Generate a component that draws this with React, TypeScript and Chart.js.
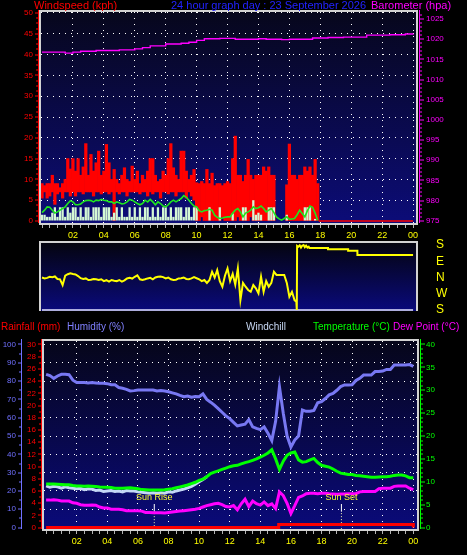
import React, { useEffect, useRef } from 'react';
import { Chart, registerables } from 'chart.js';

Chart.register(...registerables);

const FONT = "'Liberation Sans', Arial, Helvetica, sans-serif";

// ---------------- Top panel: wind (10-minute samples from 00:00) ----------------
const gustHigh: (number | null)[] = [
  9, 8.5, 9, 9, 11, 9,
  9, 8, 9, 10, 15, 12.5,
  15, 12, 15, 11, 13, 18.6,
  11, 16, 12, 14, 16.8, 11,
  12, 18.4, 14, 10, 12.4, 10,
  9, 11, 12.8, 10, 9.5, 13.2,
  10, 12, 9, 11, 10, 12,
  15, 15, 11, 9.5, 10, 12,
  11, 15, 18.6, 12.8, 11, 10,
  16.8, 16.8, 12, 10, 11, 12.4,
  9.2, 9, 9.5, 9, 12.4, 9,
  11.5, 8.5, 9, 9, 8.5, 9,
  9.5, 9, 15, 20.4, 11, 11,
  9.5, 11, 14.8, 11, 10, 11,
  11, 11, 13, 12, 13, 11,
  11, null, null, null, null, 8.7,
  18.5, 11, 11, 10, 11, 11,
  13, 12, 13, 11, 14.8, 9,
];
const gustLow: (number | null)[] = [
  5.5, 7, 5.5, 6, 7, 4,
  6.5, 7, 5.5, 7, 7, 6,
  7, 6, 7, 7, 6.5, 7,
  7, 7, 6, 7, 7, 6.5,
  7, 7, 6.5, 7, 0, 7,
  6.5, 7, 7, 6, 7, 7,
  7, 7, 6.5, 7, 7, 6,
  7, 6.5, 7, 7, 5.5, 7,
  7, 6.5, 7, 7, 6, 7,
  7, 7, 5.5, 7, 6, 5,
  0, 0, 1, 0, 0, 0,
  0, 0, 0, 0, 1, 0,
  0, 0, 0, 0, 1, 0,
  0, 0, 0, 1, 0, 0,
  0, 0, 0, 0, 0, 0,
  0, null, null, null, null, 0,
  0, 0, 0, 0, 0, 0,
  0, 0, 0, 0, 0, 0,
];
const windSpeed: number[] = [
  1.5, 1.5, 1, 1, 2, 3.3,
  1, 3.3, 3.3, 1, 3.3, 2,
  3.3, 3.3, 1, 3.3, 1, 3.3,
  3.3, 1, 3.3, 3.3, 3.3, 1,
  3.3, 3.3, 3.3, 1, 2, 3.3,
  1, 3.3, 1, 1, 3.3, 1,
  3.3, 1, 3.3, 1, 3.3, 3.3,
  1, 3.3, 1, 3.3, 1, 3.3,
  3.3, 1, 3.3, 1, 3.3, 3.3,
  3.3, 1, 3.3, 3.3, 1, 3.3,
  3.3, 0, 0, 0, 0, 3.3,
  0, 0, 0, 3.3, 0, 0,
  0, 0, 1.8, 0, 0, 0,
  3.3, 3.3, 0, 0, 5, 1.5,
  2, 1.5, 0, 0, 3.3, 3.3,
  3.3, 0, 0, 0, 0, 1.5,
  0, 0, 0, 0, 0, 0,
  3.3, 3.3, 3.3, 0, 0.5, 0,
];
const windAvg: number[] = [
  2.0, 2.6, 3.4, 3.3, 2.6, 1.9,
  2.2, 2.6, 3.0, 3.4, 4.2, 4.9,
  4.6, 3.9, 3.9, 4.1, 4.6, 4.9,
  5.0, 4.9, 4.6, 5.0, 4.9, 5.2,
  5.0, 4.9, 4.6, 4.6, 4.2, 4.6,
  4.4, 4.1, 4.2, 4.6, 5.2, 5.0,
  4.6, 4.2, 3.9, 4.2, 5.0, 4.6,
  5.2, 4.6, 3.9, 4.6, 4.2, 3.6,
  3.4, 3.9, 4.6, 5.0, 4.6, 5.0,
  5.4, 6.1, 5.7, 5.0, 4.2, 3.6,
  3.4, 2.5, 2.2, 2.5, 2.6, 2.8,
  2.6, 1.4, 0.9, 0.6, 0.7, 0.9,
  1.0, 1.0, 1.9, 2.6, 3.0, 2.2,
  1.0, 1.9, 2.2, 2.6, 3.4, 3.0,
  3.2, 3.6, 3.0, 2.2, 2.6, 3.0,
  2.0, 1.0, 0.5, 0.2, 0.6, 1.0,
  0.4, 0.5, 0.6, 1.5, 2.6, 1.8,
  1.0, 2.5, 3.6, 3.3, 1.9, 0.1,
];
const gustTailHours = [17.9, 24];
const gustTail = [0, 0];

// Barometer, every 30 minutes
const baroHpa: number[] = [
  1016.8, 1016.8, 1016.8, 1016.55, 1016.8, 1017.0, 1017.0, 1017.2, 1017.2, 1017.2,
  1017.35, 1017.35, 1017.6, 1017.9, 1018.35, 1018.35, 1018.8, 1018.8, 1019.0, 1019.25,
  1019.7, 1020.1, 1020.1, 1020.2, 1020.2, 1020.0, 1020.0, 1020.0, 1020.1, 1020.0,
  1020.0, 1019.9, 1020.0, 1020.0, 1020.0, 1020.3, 1020.3, 1020.4, 1020.4, 1020.5,
  1020.5, 1020.5, 1021.0, 1021.0, 1021.0, 1021.1, 1021.1, 1021.3, 1021.4,
];

// ---------------- Wind direction (axis order S=0, W=90, N=180, E=270, S=360) ----------------
const dirPlot: number[] = [
  180, 175, 178, 184, 182, 186,
  172, 170, 138, 190, 198, 203,
  199, 197, 188, 176, 172, 175,
  166, 168, 172, 170, 166, 170,
  160, 165, 157, 166, 162, 160,
  166, 157, 164, 175, 178, 174,
  184, 192, 170, 166, 170, 175,
  178, 170, 180, 184, 186, 182,
  175, 180, 170, 166, 168, 175,
  176, 180, 172, 170, 175, 182,
  176, 170, 160, 166, 150, 166,
  212, 180, 221, 160, 129, 190,
  230, 160, 200, 140, 230, 55,
  150, 129, 111, 101, 138, 120,
  92, 184, 101, 160, 129, 150,
  212, 194, 194, 194, 194, 150,
  74, 101, 55,
];
const dirLateHours = [16.45, 16.48, 16.5, 16.58, 16.67, 16.75, 16.83, 16.92, 17.0, 17.08, 17.17, 17.25, 17.3, 18.5, 18.5, 19.8, 19.8, 20.4, 20.4, 24];
const dirLate = [46, 0, 355, 350, 358, 346, 356, 360, 348, 356, 345, 350, 343, 343, 336, 336, 328, 328, 305, 305];
const dirBaseHours = [0, 24];
const dirBase = [0, 0];
const dirLabels: Record<number, string> = { 0: 'S', 90: 'W', 180: 'N', 270: 'E', 360: 'S' };

// ---------------- Bottom panel (15-minute samples) ----------------
const humidity: number[] = [
  83.7, 83.0, 81.5, 82.8, 83.7, 83.7, 83.5, 80.5,
  79.2, 79.2, 79.2, 79.0, 79.2, 79.0, 78.8, 78.8,
  78.6, 78.0, 78.0, 76.5, 76.1, 75.5, 74.6, 74.8,
  75.1, 75.1, 75.1, 75.1, 75.1, 74.6, 74.8, 74.6,
  74.2, 73.6, 73.0, 72.2, 71.5, 71.8, 71.2, 71.6,
  71.5, 73.0, 70.0, 68.5, 66.9, 65.0, 63.0, 61.0,
  59.5, 57.5, 55.5, 56.0, 56.5, 59.0, 55.0, 54.2,
  53.5, 55.0, 51.5, 47.5, 58.0, 77.0, 62.4, 50.0,
  44.0, 47.8, 50.0, 64.2, 63.5, 63.5, 64.0, 68.2,
  68.8, 70.5, 72.5, 73.3, 75.0, 77.0, 77.9, 77.9,
  78.0, 80.3, 81.5, 83.3, 83.3, 83.3, 85.2, 85.2,
  85.5, 86.4, 86.4, 88.8, 88.8, 88.8, 88.8, 89.0, 88.0,
];
const temperature: number[] = [
  9.5, 9.5, 9.5, 9.45, 9.4, 9.35, 9.35, 9.2,
  9.1, 9.1, 9.05, 9.1, 9.05, 9.0, 8.85, 8.8,
  8.8, 8.75, 8.6, 8.6, 8.6, 8.65, 8.7, 8.6,
  8.5, 8.3, 8.25, 8.2, 8.2, 8.2, 8.2, 8.25,
  8.4, 8.5, 8.7, 8.9, 9.1, 9.3, 9.6, 9.9,
  10.3, 10.6, 11.1, 11.8, 12.1, 12.4, 12.7, 13.0,
  13.3, 13.5, 13.6, 13.9, 14.2, 14.4, 14.7, 15.0,
  15.4, 15.8, 16.3, 17.0, 15.0, 12.7, 14.5, 15.8,
  16.3, 16.5, 14.8, 14.3, 14.4, 14.8, 15.1, 14.2,
  13.6, 13.4, 13.2, 12.8, 12.3, 11.9, 11.75, 11.6,
  11.6, 11.4, 11.3, 11.2, 11.1, 11.0, 11.0, 11.05,
  11.1, 11.1, 11.2, 11.4, 11.5, 11.5, 11.3, 10.9, 10.9,
];
const dewPoint: number[] = [
  6.0, 6.0, 6.1, 6.0, 5.8, 5.8, 5.8, 5.4,
  5.3, 5.0, 4.9, 4.9, 4.95, 4.9, 4.5, 4.3,
  4.3, 4.0, 4.0, 4.0, 3.9, 3.7, 3.7, 3.7,
  3.7, 3.6, 3.3, 3.3, 3.25, 3.25, 3.25, 3.2,
  3.3, 3.4, 3.5, 3.6, 3.7, 3.8, 3.9, 4.0,
  4.2, 4.5, 4.8, 5.0, 5.2, 5.3, 5.0, 4.6,
  4.5, 4.8, 3.9, 5.2, 6.2, 4.6, 5.8, 5.2,
  4.9, 5.6, 4.8, 5.2, 4.2, 7.8, 7.0, 5.3,
  3.1, 4.8, 6.6, 6.9, 7.4, 7.5, 7.5, 7.4,
  7.5, 7.5, 7.4, 7.35, 7.3, 7.35, 7.35, 7.4,
  7.4, 7.4, 7.8, 7.9, 7.9, 7.9, 7.9, 8.5,
  8.6, 8.6, 8.6, 9.0, 9.1, 9.1, 9.1, 8.6, 8.3,
];
// windchill is visible only until it merges with temperature (~10:30)
const windChill: number[] = [
  9.1, 8.8, 9.0, 8.9, 8.6, 8.9, 8.7, 8.6,
  8.5, 8.6, 8.3, 8.5, 8.4, 8.1, 8.2, 7.9,
  8.0, 8.1, 7.9, 8.0, 7.8, 8.1, 8.0, 8.0,
  7.8, 7.7, 7.6, 7.5, 7.6, 7.5, 7.6, 7.5,
  7.8, 7.7, 8.0, 8.2, 8.4, 8.7, 9.0, 9.5,
  10.0, 10.5, 11.1,
];
const rainHours = [0, 15.2, 23.9, 24];
const rainMm = [0, 0.5, 0.5, 0];
const sunHours = [7.07, 19.3];
const sunLabels = ['Sun Rise', 'Sun Set'];

// ---------------- helpers ----------------
const SUN_DOT_TOP = 3.47;
const SUN_LINE_TOP = 5.15;
const CLEAR = 'rgba(0,0,0,0)';

const pts = (xs: number[], ys: (number | null)[]) => ys.map((y, i) => ({ x: xs[i], y }));
const every = (n: number, step: number) => Array.from({ length: n }, (_, i) => i * step);

const isEvenHour = (v: any) => typeof v === 'number' && v > 0.01 && Math.abs(v / 2 - Math.round(v / 2)) < 1e-6;
const hourLabel = (v: number) => (isEvenHour(v) ? String(Math.round(v) % 24).padStart(2, '0') : '');

function hourAxis(min: number, max: number, height: number, display = true) {
  return {
    type: 'linear',
    position: 'bottom',
    display,
    min,
    max,
    offset: false,
    afterFit: (s: any) => { s.height = height; },
    ticks: {
      stepSize: 0.5, autoSkip: false, includeBounds: false, maxRotation: 0, minRotation: 0,
      color: '#ffff00', font: { family: FONT, size: 9 }, padding: 2,
      callback: (v: any) => hourLabel(Number(v)),
    },
    grid: {
      color: (c: any) => (isEvenHour(c.tick && c.tick.value) ? '#ffffff' : CLEAR),
      lineWidth: 1, tickLength: 5, tickWidth: 1, tickColor: '#b4b4b4', offset: false,
      borderDash: [1, 5],
    },
    border: { display: false, dash: [1, 5] },
  };
}

// label offset from the plot edge is done with an invisible tick mark (so it does not pad the plot vertically)
function valueAxis(opts: any) {
  const { position, min, max, step, color, width, gap, grid, weight, size, callback } = opts;
  return {
    type: 'linear',
    position,
    min,
    max,
    weight: weight || 0,
    afterFit: (s: any) => { s.width = width; },
    ticks: {
      stepSize: step, autoSkip: false, includeBounds: false,
      color, font: { family: FONT, size: size || 8 }, padding: 0,
      callback: callback || ((v: any) => String(v)),
    },
    grid: {
      drawOnChartArea: !!grid,
      color: (c: any) => (grid && c.tick && c.tick.value > 0 ? '#ffffff' : CLEAR),
      lineWidth: 1,
      drawTicks: true,
      tickLength: gap,
      tickColor: CLEAR,
      borderDash: [1, 5],
    },
    border: { display: false, dash: [1, 5] },
  };
}

const bgPlugin = (top: string, bottom: string) => ({
  id: 'panelBg',
  beforeDraw(chart: any) {
    const { ctx, chartArea: a } = chart;
    const g = ctx.createLinearGradient(0, a.top, 0, a.bottom);
    g.addColorStop(0, top);
    g.addColorStop(1, bottom);
    ctx.save();
    ctx.fillStyle = g;
    ctx.fillRect(a.left, a.top, a.right - a.left, a.bottom - a.top);
    ctx.restore();
  },
});

const framePlugin = (withBottom: boolean) => ({
  id: 'panelFrame',
  afterDraw(chart: any) {
    const { ctx, chartArea: a } = chart;
    ctx.save();
    ctx.fillStyle = '#d2d2d2';
    const w = a.right - a.left;
    const h = a.bottom - a.top;
    ctx.fillRect(a.left - 2, a.top - 2, w + 4, 2);
    ctx.fillRect(a.left - 2, a.top - 2, 2, h + 2 + (withBottom ? 2 : 0));
    ctx.fillRect(a.right, a.top - 2, 2, h + 2 + (withBottom ? 2 : 0));
    if (withBottom) ctx.fillRect(a.left - 2, a.bottom, w + 4, 2);
    ctx.restore();
  },
});

type Deco = { scale: string; x: (chart: any) => number; dir: number; color: string; major: number; minor: number; majorLen: number; minorLen: number };
const axisDecoPlugin = (decos: Deco[]) => ({
  id: 'axisDeco',
  afterDraw(chart: any) {
    const { ctx, chartArea: a } = chart;
    ctx.save();
    decos.forEach((d) => {
      const s = chart.scales[d.scale];
      const x = Math.round(d.x(chart));
      ctx.fillStyle = d.color;
      ctx.fillRect(x, a.top - 2, 1, a.bottom - a.top + 2);
      const k0 = Math.ceil(s.min / d.minor - 1e-9);
      const k1 = Math.floor(s.max / d.minor + 1e-9);
      for (let k = k0; k <= k1; k++) {
        const v = k * d.minor;
        const r = v / d.major;
        const major = Math.abs(r - Math.round(r)) < 1e-6;
        const len = major ? d.majorLen : d.minorLen;
        const y = Math.round(s.getPixelForValue(v)) - 0.5;
        ctx.fillRect(d.dir < 0 ? x - len : x + 1, y, len, 1);
      }
    });
    ctx.restore();
  },
});

const sunLabelPlugin = {
  id: 'sunLabels',
  afterDatasetsDraw(chart: any) {
    const { ctx } = chart;
    const xs = chart.scales.x;
    const ys = chart.scales.yt;
    ctx.save();
    ctx.font = `9px ${FONT}`;
    ctx.fillStyle = '#ffff30';
    ctx.textAlign = 'center';
    ctx.textBaseline = 'middle';
    sunHours.forEach((h, i) => {
      ctx.fillText(sunLabels[i], xs.getPixelForValue(h), ys.getPixelForValue(SUN_LINE_TOP) - 6);
    });
    ctx.restore();
  },
};

const baseOptions = (padding: any) => ({
  animation: false,
  responsive: false,
  devicePixelRatio: 1,
  events: [],
  layout: { padding },
  plugins: { legend: { display: false }, tooltip: { enabled: false } },
  elements: { point: { radius: 0 }, line: { tension: 0 } },
});

function makeTop(canvas: HTMLCanvasElement) {
  const t10 = every(gustHigh.length, 1 / 6);
  const t30 = every(baroHpa.length, 0.5);
  return new Chart(canvas, {
    type: 'line',
    data: {
      datasets: [
        { type: 'line', label: 'Barometer', yAxisID: 'yb', data: pts(t30, baroHpa), borderColor: '#ff00ff', borderWidth: 1.4, pointRadius: 0, stepped: true },
        { type: 'line', label: 'Average speed', yAxisID: 'y', data: pts(t10, windAvg), borderColor: '#1ee61e', borderWidth: 1.6, pointRadius: 0 },
        { type: 'line', label: 'Gust (no data)', yAxisID: 'y', data: pts(gustTailHours, gustTail), borderColor: '#ff0000', borderWidth: 1.5, pointRadius: 0 },
        { type: 'bar', label: 'Speed', yAxisID: 'y', data: pts(t10, windSpeed), backgroundColor: '#d4f8d4', grouped: false, barPercentage: 0.88, categoryPercentage: 1 },
        { type: 'bar', label: 'Gust', yAxisID: 'y', data: t10.map((x, i) => ({ x, y: gustLow[i] === null ? null : [gustLow[i], gustHigh[i]] })), backgroundColor: '#ff0000', grouped: false, barPercentage: 1, categoryPercentage: 1 },
      ],
    } as any,
    options: {
      ...baseOptions({ top: 12, left: 0, right: 0, bottom: 0 }),
      scales: {
        x: hourAxis(-0.065, 24.19, 18),
        y: valueAxis({ position: 'left', min: -0.48, max: 50.24, step: 5, color: '#ff0000', width: 41, gap: 8, grid: true }),
        yb: valueAxis({ position: 'right', min: 974.43, max: 1026.74, step: 5, color: '#ff00ff', width: 51, gap: 10, grid: false }),
      },
    } as any,
    plugins: [
      bgPlugin('#07071c', '#0c0c78'),
      framePlugin(true),
      axisDecoPlugin([
        { scale: 'y', x: (c) => c.chartArea.left - 3, dir: -1, color: '#ff0000', major: 5, minor: 1.25, majorLen: 3, minorLen: 2 },
        { scale: 'yb', x: (c) => c.chartArea.right + 3, dir: 1, color: '#ff00ff', major: 5, minor: 1, majorLen: 4, minorLen: 2 },
      ]),
    ],
  });
}

function makeDir(canvas: HTMLCanvasElement) {
  const t10 = every(dirPlot.length, 1 / 6);
  const data = [...pts(t10, dirPlot), ...pts(dirLateHours, dirLate)];
  return new Chart(canvas, {
    type: 'line',
    data: {
      datasets: [
        { label: 'Direction', yAxisID: 'y', data, borderColor: '#ffff00', borderWidth: 2, pointRadius: 0 },
        { label: 'Base', yAxisID: 'y', data: pts(dirBaseHours, dirBase), borderColor: '#e6e6ff', borderWidth: 1.5, pointRadius: 0 },
      ],
    } as any,
    options: {
      ...baseOptions({ top: 17, left: 41, right: 0, bottom: 15 }),
      scales: {
        x: { ...hourAxis(-0.065, 24.19, 0), display: false },
        y: valueAxis({ position: 'right', min: -5.5, max: 371, step: 90, color: '#ffff00', width: 51, gap: 20, grid: false, size: 12, callback: (v: any) => dirLabels[Number(v)] ?? '' }),
      },
    } as any,
    plugins: [bgPlugin('#04040f', '#0a0a7c'), framePlugin(false)],
  });
}

function makeBottom(canvas: HTMLCanvasElement) {
  const t15 = every(humidity.length, 0.25);
  const sunSets = sunHours.map((h, i) => ({
    label: sunLabels[i],
    yAxisID: 'yt',
    data: [{ x: h, y: -1 }, { x: h, y: SUN_DOT_TOP }, { x: h, y: SUN_LINE_TOP }],
    borderColor: '#ffffff',
    borderWidth: 1,
    pointRadius: 0,
    segment: {
      borderDash: (c: any) => (c.p0DataIndex === 0 ? [1, 2] : []),
      borderColor: (c: any) => (c.p0DataIndex === 0 ? '#ffffb0' : '#ffffff'),
    },
  }));
  return new Chart(canvas, {
    type: 'line',
    data: {
      datasets: [
        { label: 'Rainfall', yAxisID: 'yr', data: pts(rainHours, rainMm), borderColor: '#ff0000', borderWidth: 3, pointRadius: 0, stepped: true },
        { label: 'Temperature', yAxisID: 'yt', data: pts(t15, temperature), borderColor: '#00ff00', borderWidth: 3, pointRadius: 0 },
        { label: 'Windchill', yAxisID: 'yt', data: pts(t15, windChill), borderColor: '#c4d8f6', borderWidth: 3, pointRadius: 0 },
        { label: 'Dew Point', yAxisID: 'yt', data: pts(t15, dewPoint), borderColor: '#ff00ff', borderWidth: 3, pointRadius: 0 },
        { label: 'Humidity', yAxisID: 'yh', data: pts(t15, humidity), borderColor: '#7878f2', borderWidth: 3, pointRadius: 0 },
        ...sunSets,
      ],
    } as any,
    options: {
      ...baseOptions({ top: 11, left: 0, right: 0, bottom: 0 }),
      scales: {
        x: hourAxis(-0.137, 24.24, 26),
        yh: valueAxis({ position: 'left', min: -0.76, max: 101.9, step: 10, color: '#7070ff', width: 22, gap: 6, grid: true, weight: 1 }),
        yr: valueAxis({ position: 'left', min: -0.23, max: 30.57, step: 2, color: '#ff0000', width: 22, gap: 8, grid: false, weight: 0 }),
        yt: valueAxis({ position: 'right', min: -0.31, max: 40.76, step: 5, color: '#00ff00', width: 50, gap: 9, grid: false }),
      },
    } as any,
    plugins: [
      bgPlugin('#06061a', '#0a0a7a'),
      framePlugin(true),
      sunLabelPlugin,
      axisDecoPlugin([
        { scale: 'yr', x: (c) => c.chartArea.left - 3, dir: -1, color: '#ff0000', major: 2, minor: 1, majorLen: 3, minorLen: 2 },
        { scale: 'yh', x: (c) => c.scales.yh.right - 1, dir: -1, color: '#7070ff', major: 10, minor: 5, majorLen: 3, minorLen: 2 },
        { scale: 'yt', x: (c) => c.chartArea.right + 3, dir: 1, color: '#00ff00', major: 5, minor: 1, majorLen: 4, minorLen: 2 },
      ]),
    ],
  });
}

const titleStyle = (left: number, top: number, color: string, size: number): React.CSSProperties => ({
  position: 'absolute', left, top, color, fontSize: size, lineHeight: `${size + 2}px`, whiteSpace: 'nowrap', fontFamily: FONT,
});

export default function App() {
  const topRef = useRef<HTMLCanvasElement>(null);
  const dirRef = useRef<HTMLCanvasElement>(null);
  const botRef = useRef<HTMLCanvasElement>(null);

  useEffect(() => {
    const charts = [makeTop(topRef.current!), makeDir(dirRef.current!), makeBottom(botRef.current!)];
    return () => charts.forEach((c) => c.destroy());
  }, []);

  return (
    <div style={{ position: 'absolute', left: 0, top: 0, width: 467, height: 555, background: '#000', overflow: 'hidden' }}>
      <canvas ref={topRef} width={467} height={241} style={{ position: 'absolute', left: 0, top: 0 }} />
      <canvas ref={dirRef} width={467} height={100} style={{ position: 'absolute', left: 0, top: 226 }} />
      <canvas ref={botRef} width={467} height={225} style={{ position: 'absolute', left: 0, top: 330 }} />
      <span style={titleStyle(34, -1, '#ff0000', 11)}>Windspeed (kph)</span>
      <span style={titleStyle(171, -1, '#2222ff', 11)}>24 hour graph day : 23 September 2026</span>
      <span style={titleStyle(371, -1, '#ff00ff', 11)}>Barometer (hpa)</span>
      <span style={titleStyle(1, 321, '#ff0000', 10)}>Rainfall (mm)</span>
      <span style={titleStyle(67, 321, '#8080ff', 10)}>Humidity (%)</span>
      <span style={titleStyle(246, 321, '#c8d8f4', 10)}>Windchill</span>
      <span style={titleStyle(313, 321, '#00ff00', 10)}>Temperature (°C)</span>
      <span style={titleStyle(393, 321, '#ff00ff', 10)}>Dew Point (°C)</span>
    </div>
  );
}
